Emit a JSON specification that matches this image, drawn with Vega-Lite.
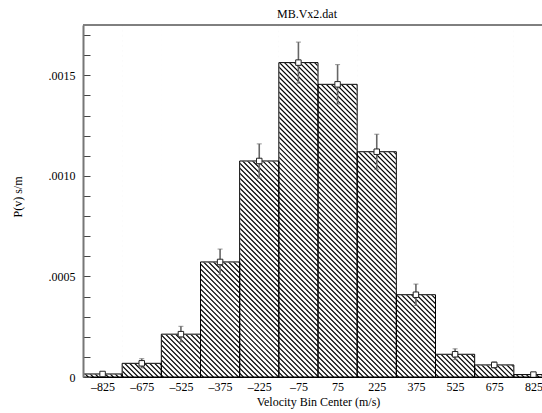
{
  "$schema": "https://vega.github.io/schema/vega-lite/v6.json",
  "autosize": {"type": "none"},
  "padding": {"left": 83, "top": 25, "right": 0, "bottom": 36},
  "width": 459,
  "height": 352,
  "title": {"text": "MB.Vx2.dat", "anchor": "middle", "frame": "group", "dx": -5.5, "dy": 13, "baseline": "alphabetic", "offset": 8, "fontSize": 12, "fontWeight": "normal", "font": "Liberation Serif", "color": "#000"},
  "data": {"values": [
    {"v": -825, "lo": -900, "hi": -750, "p": 0.000015, "e": 0.000008},
    {"v": -675, "lo": -750, "hi": -600, "p": 0.000068, "e": 0.000023},
    {"v": -525, "lo": -600, "hi": -450, "p": 0.000213, "e": 0.000039},
    {"v": -375, "lo": -450, "hi": -300, "p": 0.000572, "e": 0.000064},
    {"v": -225, "lo": -300, "hi": -150, "p": 0.001074, "e": 0.000085},
    {"v": -75, "lo": -150, "hi": 0, "p": 0.001563, "e": 0.000102},
    {"v": 75, "lo": 0, "hi": 150, "p": 0.001455, "e": 0.000098},
    {"v": 225, "lo": 150, "hi": 300, "p": 0.00112, "e": 0.000087},
    {"v": 375, "lo": 300, "hi": 450, "p": 0.000409, "e": 0.000053},
    {"v": 525, "lo": 450, "hi": 600, "p": 0.000113, "e": 0.000027},
    {"v": 675, "lo": 600, "hi": 750, "p": 0.00006, "e": 0.000015},
    {"v": 825, "lo": 750, "hi": 900, "p": 0.000012, "e": 0.000007}
  ]},
  "layer": [
    {
      "data": {"values": [{}]},
      "mark": {"type": "rule", "clip": true, "color": "#000", "strokeWidth": 600, "strokeDash": [1.2, 2.34], "strokeCap": "butt"},
      "encoding": {
        "x": {"datum": -788.2, "type": "quantitative", "scale": {"domain": [-900, 857.87], "nice": false, "zero": false},
          "axis": {"orient": "bottom", "values": [-825, -675, -525, -375, -225, -75, 75, 225, 375, 525, 675, 825], "tickCount": 20, "labelExpr": "datum.value < 0 ? '–' + abs(datum.value) : '' + datum.value", "ticks": false, "grid": false, "domainColor": "#000", "domainWidth": 1, "labelPadding": 4.5, "labelFontSize": 12, "labelColor": "#000", "labelFont": "Liberation Serif", "title": "Velocity Bin Center (m/s)", "titleFont": "Liberation Serif", "titleFontSize": 12, "titleFontWeight": "normal", "titleColor": "#000", "titleX": 235, "titleY": 28, "titleBaseline": "alphabetic", "titleAnchor": "middle", "titleAlign": "center", "zindex": 1, "labelOverlap": false, "labelFlush": false}},
        "x2": {"datum": 788.2},
        "y": {"datum": -0.0001482, "type": "quantitative", "scale": {"domain": [0, 0.00175], "nice": false, "zero": false},
          "axis": {"orient": "left", "values": [0, 0.0001, 0.0002, 0.0003, 0.0004, 0.0005, 0.0006, 0.0007, 0.0008, 0.0009, 0.001, 0.0011, 0.0012, 0.0013, 0.0014, 0.0015, 0.0016, 0.0017], "tickCount": 30, "labelExpr": "datum.value == 0 ? '0' : (abs(datum.value * 2000 - round(datum.value * 2000)) < 0.001 ? replace(format(datum.value, '.4f'), '0.', '.') : '')", "tickSize": -7, "tickColor": "#444", "tickWidth": 1, "domainColor": "#777", "domainWidth": 2, "labelPadding": 15, "labelFontSize": 12, "labelColor": "#000", "labelFont": "Liberation Serif", "grid": false, "labelOverlap": false, "labelFlush": false, "title": "P(v) s/m", "titleFont": "Liberation Serif", "titleFontSize": 12, "titleFontWeight": "normal", "titleColor": "#000", "titleX": -62, "titleY": 171.5, "titleAngle": -90, "titleBaseline": "alphabetic", "titleAlign": "center", "titleAnchor": "middle", "zindex": 1}},
        "y2": {"datum": 0.0018982}
      }
    },
    {
      "mark": {"type": "bar", "clip": true, "fill": "#fff", "stroke": "#fff", "strokeWidth": 1},
      "encoding": {
        "x": {"field": "lo", "type": "quantitative", "title": "Velocity Bin Center (m/s)"},
        "x2": {"field": "hi"},
        "y": {"field": "p", "type": "quantitative", "title": "P(v) s/m"},
        "y2": {"datum": 0.00175}
      }
    },
    {
      "mark": {"type": "bar", "clip": true, "fill": null, "fillOpacity": 0, "stroke": "#000", "strokeWidth": 1},
      "encoding": {
        "x": {"field": "lo", "type": "quantitative", "title": "Velocity Bin Center (m/s)"},
        "x2": {"field": "hi"},
        "y": {"field": "p", "type": "quantitative", "title": "P(v) s/m"},
        "y2": {"datum": 0}
      }
    },
    {
      "mark": {"type": "errorbar", "ticks": {"size": 5, "color": "#666", "strokeWidth": 1.5}, "rule": {"color": "#666", "strokeWidth": 1.6}},
      "encoding": {
        "x": {"field": "v", "type": "quantitative", "title": "Velocity Bin Center (m/s)"},
        "y": {"field": "p", "type": "quantitative", "title": "P(v) s/m"},
        "yError": {"field": "e"}
      }
    },
    {
      "mark": {"type": "point", "shape": "square", "size": 30, "filled": true, "fill": "#fff", "stroke": "#222", "strokeWidth": 1, "opacity": 1},
      "encoding": {
        "x": {"field": "v", "type": "quantitative", "title": "Velocity Bin Center (m/s)"},
        "y": {"field": "p", "type": "quantitative", "title": "P(v) s/m"}
      }
    },
    {
      "data": {"values": [{}]},
      "mark": {"type": "rule", "color": "#000", "strokeWidth": 1},
      "encoding": {
        "y": {"datum": 0.00175, "type": "quantitative"}
      }
    }
  ],
  "config": {
    "font": "Liberation Serif",
    "view": {"stroke": null},
    "axis": {"titleFont": "Liberation Serif", "labelFont": "Liberation Serif", "titleFontWeight": "normal"},
    "title": {"font": "Liberation Serif", "fontWeight": "normal"}
  }
}
